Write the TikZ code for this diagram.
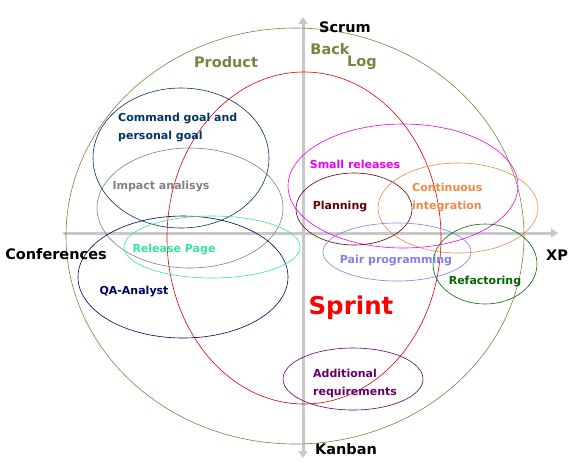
\documentclass[tikz,border=0pt]{standalone}
\usepackage{fontspec}
\setmainfont{DejaVu Sans}
\usetikzlibrary{arrows.meta}
\definecolor{olivering}{HTML}{808040}
\definecolor{sprintred}{HTML}{E00000}
\definecolor{goalblue}{HTML}{003366}
\definecolor{impactgray}{HTML}{808080}
\definecolor{qanavy}{HTML}{000066}
\definecolor{releasemint}{HTML}{33E699}
\definecolor{smallmag}{HTML}{EE00EE}
\definecolor{planred}{HTML}{660000}
\definecolor{ciorange}{HTML}{EE8844}
\definecolor{pairlav}{HTML}{8080E8}
\definecolor{refgreen}{HTML}{006600}
\definecolor{addpurple}{HTML}{660066}
\definecolor{axisgray}{HTML}{C8C8C8}
\tikzset{
  ring/.style={line width=0.6pt},
  lbl/.style={font=\fontsize{11}{18}\selectfont\bfseries,align=left,inner sep=0pt},
  method/.style={font=\fontsize{14.5}{16}\selectfont\bfseries,text=black,inner sep=0pt},
  axisline/.style={draw=axisgray,line width=3pt,line cap=round,
                   -{Triangle[length=7pt,width=9pt]}},
}
\begin{document}
\begin{tikzpicture}[x=1pt,y=-1pt]
\useasboundingbox (0,0) rectangle (578,467);
% axes
\coordinate (west) at (64,233);
\coordinate (east) at (558,233);
\coordinate (north) at (303,17);
\coordinate (south) at (303,458);
\coordinate (mid) at (303,233);
\draw[axisline] (west) -- (east);
\draw[axisline] (mid) -- (north);
\draw[axisline] (mid) -- (south);
% rings
\draw[ring,olivering] (295,236) ellipse (229 and 208);
\draw[ring,sprintred] (304,238) ellipse (137 and 166);
\draw[ring,goalblue] (181,158) ellipse (88 and 70);
\draw[ring,impactgray] (190,208) ellipse (93 and 60);
\draw[ring,qanavy] (183,277) ellipse (105 and 61);
\draw[ring,releasemint] (212,247) ellipse (88 and 31);
\draw[ring,smallmag] (403,186) ellipse (115 and 62);
\draw[ring,planred] (354,209) ellipse (58 and 36);
\draw[ring,ciorange] (458,208) ellipse (80 and 45);
\draw[ring,pairlav] (397,252) ellipse (74 and 29);
\draw[ring,refgreen] (485,264) ellipse (52 and 40);
\draw[ring,addpurple] (353,379) ellipse (70 and 31);
% methods on the axes
\node[method] (scrum) at (345,27) {Scrum};
\node[method] (conf) at (56,254) {Conferences};
\node[method] (xp) at (557,255) {XP};
\node[method] (kanban) at (346,449) {Kanban};
% labels
\node[method,text=olivering] (back) at (330,49) {Back};
\node[method,text=olivering] (log) at (362,63) {Log};
\node[method,text=olivering] (product) at (226,62) {Product};
\node[lbl,text=goalblue,anchor=west] (goal) at (118,128) {Command goal and\\personal goal};
\node[lbl,text=impactgray] (impact) at (161,187) {Impact analisys};
\node[lbl,text=releasemint] (release) at (174,249) {Release Page};
\node[lbl,text=qanavy] (qa) at (134,291) {QA-Analyst};
\node[lbl,text=smallmag] (small) at (355,164) {Small releases};
\node[lbl,text=planred] (plan) at (340,207) {Planning};
\node[lbl,text=ciorange,anchor=west] (ci) at (412,198) {Continuous\\integration};
\node[lbl,text=pairlav] (pair) at (396,260) {Pair programming};
\node[lbl,text=refgreen] (refac) at (485,281) {Refactoring};
\node[font=\fontsize{24.5}{26}\selectfont\bfseries,text=red,inner sep=0pt] (sprint) at (351,308) {Sprint};
\node[lbl,text=addpurple,anchor=west] (add) at (313,383) {Additional\\requirements};
\end{tikzpicture}
\end{document}
